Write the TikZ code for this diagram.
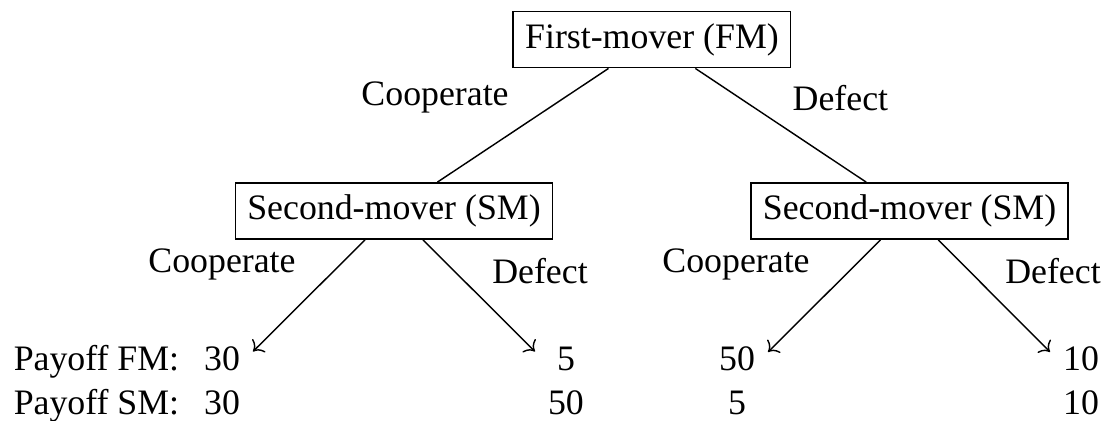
\documentclass[tikz,border=0pt]{standalone}
\usepackage{fontspec}
\setmainfont{Liberation Serif}
\usepackage{tikz}
\usetikzlibrary{arrows.meta,positioning}

\begin{document}
\begin{tikzpicture}[
  player/.style={draw, font=\normalsize},
  move/.style={inner sep=0pt, anchor=base},
  pay/.style={inner sep=0pt, anchor=base},
  arr/.style={->}
]
\useasboundingbox (0,0) rectangle (10.875,-4.132);
% decision nodes
\node[player] (fm) at (6.399,-0.388) {First-mover (FM)};
\node[player] (sm1) at (3.867,-2.071) {Second-mover (SM)};
\node[player] (sm2) at (8.927,-2.071) {Second-mover (SM)};
% ends of the second moves
\coordinate (e1) at (2.483,-3.450);
\coordinate (e2) at (5.251,-3.450);
\coordinate (e3) at (7.538,-3.455);
\coordinate (e4) at (10.306,-3.455);
\draw (fm)--(sm1);
\draw (fm)--(sm2);
\draw[arr] (sm1)--(e1);
\draw[arr] (sm1)--(e2);
\draw[arr] (sm2)--(e3);
\draw[arr] (sm2)--(e4);
% move labels
\node[move] (coopfm) at (4.270,-1.031) {Cooperate};
\node[move] (deffm) at (8.249,-1.089) {Defect};
\node[move] (coop1) at (2.179,-2.679) {Cooperate};
\node[move] (def1) at (5.300,-2.787) {Defect};
\node[move] (coop2) at (7.224,-2.679) {Cooperate};
\node[move] (def2) at (10.335,-2.787) {Defect};
% payoffs
\node[pay, anchor=base west] (payfm) at (0.128,-3.641) {Payoff FM:};
\node[pay, anchor=base west] (paysm) at (0.128,-4.073) {Payoff SM:};
\foreach \x/\f/\s [count=\i] in {2.179/30/30, 5.555/5/50, 7.234/50/5, 10.610/10/10} {
  \node[pay] (f\i) at (\x,-3.641) {\f};
  \node[pay] (s\i) at (\x,-4.073) {\s};
}
\end{tikzpicture}
\end{document}
